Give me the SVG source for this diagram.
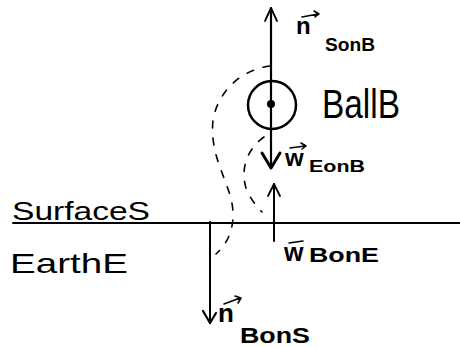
<svg xmlns="http://www.w3.org/2000/svg" width="460" height="347" viewBox="0 0 460 347">
<style>
.ln{stroke:#000;fill:none;stroke-linecap:round;stroke-linejoin:round}
.dash{stroke:#000;fill:none;stroke-width:1.6;stroke-dasharray:7 10;stroke-linecap:round}
.t{font-family:"Liberation Sans",Arial,sans-serif;fill:#000}
.b{font-weight:bold}
.thin{font-family:"Liberation Sans",Arial,sans-serif;fill:#000;font-weight:normal}
</style>
<rect width="460" height="347" fill="#fff"/>
<g id="connectors">
<path class="ln" stroke-width="2.2" d="M271 8 V168"/>
<path class="ln" stroke-width="1.8" d="M265 21 L271 8 L277 21"/>
<path class="ln" stroke-width="3" d="M262 153 L271 168 L280 153"/>
<path class="ln" stroke-width="2" d="M210 222 V323"/>
<path class="ln" stroke-width="2.2" d="M203 311 L210 323 L216 313"/>
<path class="ln" stroke-width="2" d="M274 184 V241"/>
<path class="ln" stroke-width="1.8" d="M268 196 L274 184 L280 196"/>
</g>
<g id="surface">
<path class="ln" stroke-width="2" d="M13 223 H460"/>
<text class="thin" x="12" y="220" font-size="26" textLength="138" lengthAdjust="spacingAndGlyphs">SurfaceS</text>
</g>
<g id="earth">
<text class="thin" x="10" y="273" font-size="28" textLength="118" lengthAdjust="spacingAndGlyphs">EarthE</text>
</g>
<g id="ball">
<circle cx="272" cy="105" r="24" class="ln" stroke-width="2.5"/>
<circle cx="271" cy="104" r="4" fill="#000"/>
<text class="t" x="322" y="118" font-size="40" textLength="78" lengthAdjust="spacingAndGlyphs">BallB</text>
</g>
<g id="paths">
<path class="dash" d="M270 66 C240 70 218 92 213 120 C210 150 222 170 230 195 C236 215 234 238 216 254"/>
<path class="dash" d="M264 137 C248 148 240 168 246 188 C250 198 256 206 262 212"/>
</g>
<g id="label-n-SonB">
<text class="t b" x="296" y="34" font-size="24">n</text>
<path class="ln" stroke-width="1.5" d="M302 17 L318 14 M314 11 L319 14 L315 17"/>
<text class="t b" x="325" y="51" font-size="19" textLength="50" lengthAdjust="spacingAndGlyphs">SonB</text>
</g>
<g id="label-w-EonB">
<text class="t b" x="285" y="166" font-size="24">w</text>
<path class="ln" stroke-width="1.5" d="M290 148 L305 146 M301 143 L306 146 L302 149"/>
<text class="t b" x="309" y="172" font-size="16" textLength="56" lengthAdjust="spacingAndGlyphs">EonB</text>
</g>
<g id="label-w-BonE">
<text class="t b" x="284" y="261" font-size="25">w</text>
<path class="ln" stroke-width="1.5" d="M289 243 L303 241"/>
<text class="t b" x="309" y="262" font-size="20" textLength="70" lengthAdjust="spacingAndGlyphs">BonE</text>
</g>
<g id="label-n-BonS">
<text class="t b" x="218" y="322" font-size="26">n</text>
<path class="ln" stroke-width="1.6" d="M224 304 L240 298 M235 296 L241 298 L238 303"/>
<text class="t b" x="240" y="343" font-size="22" textLength="70" lengthAdjust="spacingAndGlyphs">BonS</text>
</g>
</svg>
